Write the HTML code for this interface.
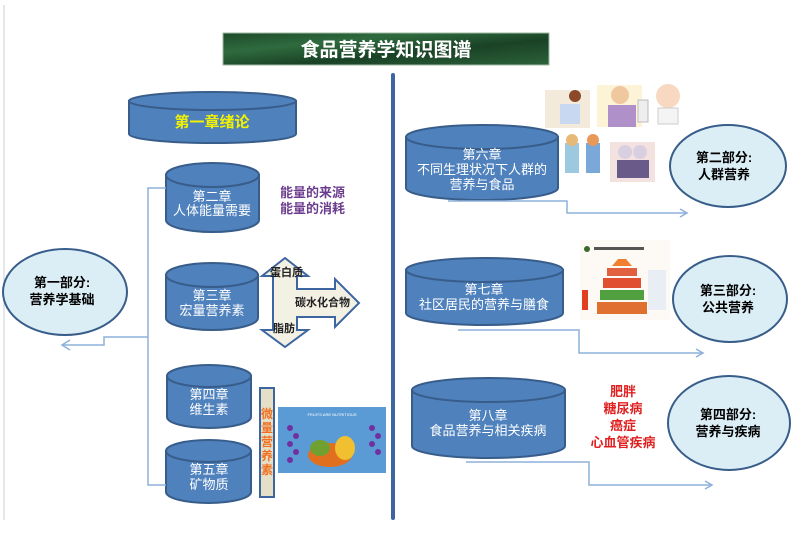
<!DOCTYPE html>
<html><head><meta charset="utf-8"><style>
html,body{margin:0;padding:0;background:#fff}
svg{display:block}
text{font-family:"Liberation Sans","Noto Sans CJK SC",sans-serif}
.cw{fill:#fff;font-size:13px;text-anchor:middle}
.cb{fill:#000;font-size:13px;font-weight:bold;text-anchor:middle}
</style></head><body>
<svg width="798" height="539" viewBox="0 0 798 539" xmlns="http://www.w3.org/2000/svg">
<defs>
<linearGradient id="g" x1="0" y1="0" x2="1" y2="1">
<stop offset="0" stop-color="#1d4a2a"/><stop offset="0.3" stop-color="#2f6b3e"/><stop offset="0.6" stop-color="#1a4226"/><stop offset="1" stop-color="#2c623a"/>
</linearGradient>
</defs>
<line x1="4" y1="5" x2="4" y2="520" stroke="#c8ccd4" stroke-width="1"/>
<rect x="223" y="33" width="326" height="32" fill="url(#g)" stroke="#9fb9a3"/>
<text x="386" y="56" fill="#fff" font-size="19" font-weight="bold" text-anchor="middle">食品营养学知识图谱</text>
<rect x="391" y="73" width="4" height="447" rx="2" fill="#3d66a0"/>

<g fill="#4f81bd" stroke="#385d8a" stroke-width="2">
<!-- ch1 -->
<path d="M129,101 V134 A83,9 0 0 0 296,134 V101 Z"/><ellipse cx="212.5" cy="101" rx="83.5" ry="9"/>
<!-- ch2 -->
<path d="M166,175 V220 A46.5,12 0 0 0 259,220 V175 Z"/><ellipse cx="212.5" cy="175" rx="46.5" ry="12"/>
<!-- ch3 -->
<path d="M166,275 V318 A46,12 0 0 0 258,318 V275 Z"/><ellipse cx="212" cy="275" rx="46" ry="12"/>
<!-- ch4 -->
<path d="M167,376 V417 A42,11 0 0 0 251,417 V376 Z"/><ellipse cx="209" cy="376" rx="42" ry="11"/>
<!-- ch5 -->
<path d="M166,451 V492 A42.5,11 0 0 0 251,492 V451 Z"/><ellipse cx="208.5" cy="451" rx="42.5" ry="11"/>
<!-- ch6 -->
<path d="M406,137 V188 A76,12 0 0 0 558,188 V137 Z"/><ellipse cx="482" cy="137" rx="76" ry="12"/>
<!-- ch7 -->
<path d="M406,270 V313 A78.5,12 0 0 0 563,313 V270 Z"/><ellipse cx="484.5" cy="270" rx="78.5" ry="12"/>
<!-- ch8 -->
<path d="M412,390 V446 A76.5,12 0 0 0 565,446 V390 Z"/><ellipse cx="488.5" cy="390" rx="76.5" ry="12"/>
</g>
<text x="212" y="127" fill="#f2f200" font-size="15" font-weight="bold" text-anchor="middle" font-family="Liberation Serif,Noto Serif CJK SC,serif">第一章绪论</text>
<text class="cw" x="212" y="201">第二章</text><text class="cw" x="212" y="215">人体能量需要</text>
<text class="cw" x="212" y="300">第三章</text><text class="cw" x="212" y="315">宏量营养素</text>
<text class="cw" x="209" y="399">第四章</text><text class="cw" x="209" y="414">维生素</text>
<text class="cw" x="209" y="474">第五章</text><text class="cw" x="209" y="489">矿物质</text>
<text class="cw" x="482" y="159" font-size="12">第六章</text><text class="cw" x="482" y="174" font-size="12">不同生理状况下人群的</text><text class="cw" x="482" y="189" font-size="12">营养与食品</text>
<text class="cw" x="484" y="294">第七章</text><text class="cw" x="484" y="309">社区居民的营养与膳食</text>
<text class="cw" x="488" y="420">第八章</text><text class="cw" x="488" y="435">食品营养与相关疾病</text>

<!-- part circles -->
<g fill="#dbeef6" stroke="#385d8a" stroke-width="2">
<ellipse cx="65" cy="292" rx="62" ry="43"/>
<ellipse cx="728" cy="166" rx="58" ry="41"/>
<ellipse cx="730" cy="299" rx="57" ry="43"/>
<ellipse cx="729" cy="423" rx="61" ry="47"/>
</g>
<text class="cb" x="62" y="287">第一部分:</text><text class="cb" x="62" y="304">营养学基础</text>
<text class="cb" x="724" y="162">第二部分:</text><text class="cb" x="724" y="179">人群营养</text>
<text class="cb" x="728" y="295">第三部分:</text><text class="cb" x="728" y="312">公共营养</text>
<text class="cb" x="728" y="419">第四部分:</text><text class="cb" x="728" y="436">营养与疾病</text>

<!-- connectors -->
<g fill="none" stroke="#8eb0dc" stroke-width="1.5">
<path d="M166,188 H148 V485 H166"/>
<path d="M148,337 H104 V345 H62"/><path d="M70,340 L62,345 L70,350"/>
<path d="M448,201 H567 V213 H686"/><path d="M680,209 L687,213 L680,217"/>
<path d="M458,330 H579 V353 H702"/><path d="M696,349 L703,353 L696,357"/>
<path d="M466,462 H589 V485 H711"/><path d="M705,481 L712,485 L705,489"/>
</g>

<text x="280" y="197" fill="#6b3d8f" font-size="13" font-weight="bold">能量的来源</text>
<text x="280" y="213" fill="#6b3d8f" font-size="13" font-weight="bold">能量的消耗</text>

<polygon points="285,258 308,276 297,276 297,289 335,289 335,279 359,303 335,327 335,317 297,317 297,330 308,330 285,347 262,330 273,330 273,276 262,276" fill="#f3f0e4" stroke="#3d66a0" stroke-width="2"/>
<text x="270" y="276" font-size="11" font-weight="bold" fill="#222">蛋白质</text>
<text x="295" y="306" font-size="11" font-weight="bold" fill="#222">碳水化合物</text>
<text x="273" y="332" font-size="11" font-weight="bold" fill="#222">脂肪</text>

<rect x="260" y="388" width="14" height="109" fill="#e5dfc8" stroke="#3d66a0" stroke-width="2"/>
<g fill="#f07020" font-size="12" font-weight="bold" text-anchor="middle">
<text x="267" y="418">微</text><text x="267" y="432">量</text><text x="267" y="446">营</text><text x="267" y="460">养</text><text x="267" y="474">素</text>
</g>

<!-- fruit image -->
<rect x="278" y="407" width="108" height="66" fill="#5b9bd5"/>
<g fill="#7030a0"><circle cx="290" cy="428" r="3"/><circle cx="296" cy="436" r="3"/><circle cx="290" cy="444" r="3"/><circle cx="296" cy="452" r="3"/><circle cx="290" cy="460" r="3"/><circle cx="372" cy="428" r="3"/><circle cx="378" cy="436" r="3"/><circle cx="372" cy="444" r="3"/><circle cx="378" cy="452" r="3"/></g>
<ellipse cx="330" cy="455" rx="22" ry="12" fill="#e07020"/><ellipse cx="345" cy="448" rx="10" ry="12" fill="#f0c030"/><ellipse cx="320" cy="448" rx="10" ry="8" fill="#70a030"/>
<text x="332" y="416" fill="#fff" font-size="4" text-anchor="middle">FRUITS ARE NUTRITIOUS</text>

<!-- people images -->
<g>
<rect x="545" y="90" width="45" height="38" fill="#f4eadb"/><circle cx="575" cy="96" r="6" fill="#8a4a2a"/><rect x="560" y="104" width="20" height="20" fill="#c8d8f0"/>
<rect x="597" y="85" width="45" height="42" fill="#fdf4d8"/><circle cx="620" cy="95" r="9" fill="#f0c8a0"/><rect x="608" y="105" width="28" height="22" fill="#b090c8"/>
<rect x="638" y="100" width="10" height="22" fill="#eee" stroke="#bbb"/>
<circle cx="668" cy="96" r="12" fill="#f8d8c0"/><rect x="658" y="108" width="20" height="16" fill="#f4f4f4" stroke="#ccc"/>
<rect x="565" y="143" width="14" height="30" fill="#9cc8e0"/><circle cx="572" cy="140" r="6" fill="#e8b878"/>
<rect x="586" y="143" width="14" height="30" fill="#7aa8d8"/><circle cx="593" cy="140" r="6" fill="#e89858"/>
<rect x="610" y="142" width="45" height="40" fill="#f4e2e0"/><circle cx="625" cy="152" r="7" fill="#d8d0e0"/><circle cx="640" cy="152" r="7" fill="#d8d0e0"/><rect x="617" y="160" width="32" height="18" fill="#6a5a8a"/>
</g>
<!-- pyramid -->
<g>
<rect x="580" y="240" width="90" height="80" fill="#fdfaf5"/>
<circle cx="587" cy="249" r="3" fill="#3a6a2a"/><rect x="594" y="247" width="50" height="3" fill="#555"/>
<polygon points="618,259 626,259 632,266 612,266" fill="#f08030"/>
<rect x="607" y="268" width="30" height="8" fill="#e06040"/>
<rect x="603" y="278" width="38" height="10" fill="#e05030"/>
<rect x="600" y="290" width="44" height="10" fill="#50a040"/>
<rect x="597" y="302" width="50" height="12" fill="#e07030"/>
<rect x="582" y="290" width="6" height="20" fill="#e04020"/>
<rect x="648" y="270" width="18" height="40" fill="#e8eef4"/>
</g>

<g fill="#e02020" font-size="13" font-weight="bold" text-anchor="middle">
<text x="623" y="396">肥胖</text><text x="623" y="413">糖尿病</text><text x="623" y="430">癌症</text><text x="623" y="447">心血管疾病</text>
</g>
</svg>
</body></html>
